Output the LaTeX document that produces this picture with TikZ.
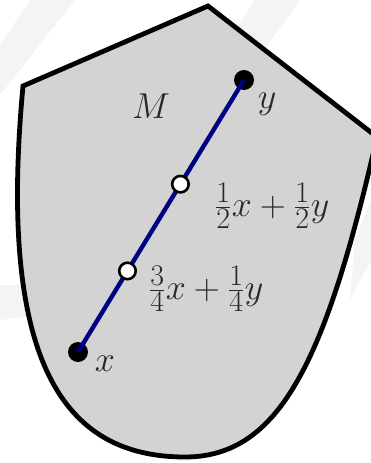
\documentclass[tikz,border=0pt]{standalone}
\usetikzlibrary{calc}
\definecolor{regionfill}{RGB}{211,211,211}
\definecolor{segcol}{RGB}{0,0,130}
\definecolor{stripe}{RGB}{244,244,244}
\definecolor{labcol}{RGB}{40,40,40}
\tikzset{
  region/.style={draw=black, line width=4.8pt, fill=regionfill, line join=miter},
  segment/.style={draw=segcol, line width=4.4pt},
  enddot/.style={circle, fill=black, minimum size=20pt, inner sep=0pt},
  middot/.style={circle, draw=black, fill=white, line width=2.6pt, minimum size=16.5pt, inner sep=0pt},
  lab/.style={inner sep=0pt, text=labcol, font=\Huge, scale=1.447},
  stripeband/.style={fill=stripe}
}
\begin{document}
\begin{tikzpicture}[x=1pt,y=-1pt]
\useasboundingbox (0,0) rectangle (371,463);
% faint background bands
\fill[stripeband] (30,0) -- (75,0) -- (0,95) -- (0,45) -- cycle;
\fill[stripeband] (255,0) -- (300,0) -- (250,70) -- (215,60) -- cycle;
\fill[stripeband] (0,285) -- (40,285) -- (40,315) -- (0,320) -- cycle;
\fill[stripeband] (371,200) -- (371,260) -- (350,300) -- (355,240) -- cycle;
% region M
\path[region] (208,6) -- (23,86) .. controls (-3,365) and (65,457) .. (185,457)
  .. controls (280,457) and (326,360) .. (377,137) -- cycle;
% points
\node[enddot] (x) at (78,352) {};
\node[enddot] (y) at (244,80) {};
\draw[segment] (x.center) -- (y.center);
\node[middot] (h) at ($(x.center)!0.617!(y.center)$) {};
\node[middot] (q) at ($(x.center)!0.298!(y.center)$) {};
% labels
\node[lab] (lM) at (151,106) {$M$};
\node[lab] (ly) at (267,104) {$y$};
\node[lab] (lx) at (105,364) {$x$};
\node[lab] (lh) at (272,206) {$\frac{1}{2}x+\frac{1}{2}y$};
\node[lab] (lq) at (206,289) {$\frac{3}{4}x+\frac{1}{4}y$};
\end{tikzpicture}
\end{document}
